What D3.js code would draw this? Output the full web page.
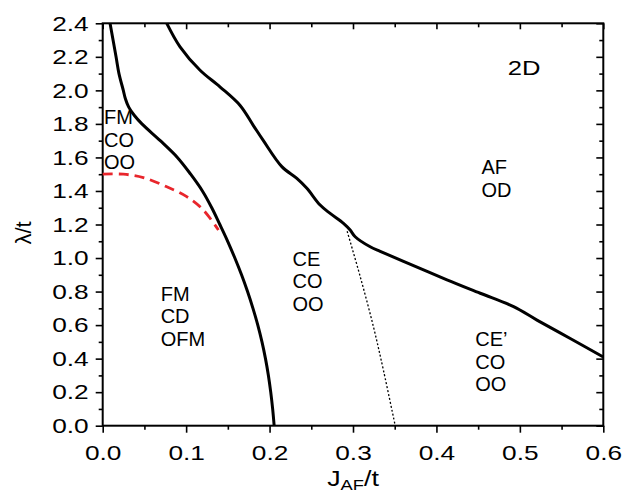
<!DOCTYPE html>
<html>
<head>
<meta charset="utf-8">
<script src="https://cdnjs.cloudflare.com/ajax/libs/d3/7.8.5/d3.min.js"></script>
<style>
  body { margin: 0; background: #fff; }
  svg { display: block; }
  text { font-family: "Liberation Sans", Arial, Helvetica, sans-serif; fill: #000; }
</style>
</head>
<body>
<svg id="chart" width="623" height="493"></svg>
<script>
// ---- data ----
const xMajorTicks = [0.0, 0.1, 0.2, 0.3, 0.4, 0.5, 0.6];
const xMinorTicks = [0.05, 0.15, 0.25, 0.35, 0.45, 0.55];
const yMajorTicks = [0.0, 0.2, 0.4, 0.6, 0.8, 1.0, 1.2, 1.4, 1.6, 1.8, 2.0, 2.2, 2.4];
const yMinorTicks = [0.1, 0.3, 0.5, 0.7, 0.9, 1.1, 1.3, 1.5, 1.7, 1.9, 2.1, 2.3];

// left solid boundary (FM/CO/OO | FM/CD/OFM)
const b1X = [0.0088, 0.0160, 0.0195, 0.0247, 0.0272, 0.0312, 0.0380, 0.0470, 0.0690, 0.0895, 0.1054, 0.1195, 0.1307, 0.1404, 0.1498, 0.1584, 0.1664, 0.1736, 0.1801, 0.1859, 0.1909, 0.1951, 0.1986, 0.2014, 0.2037, 0.2055];
const b1Y = [2.40, 2.20, 2.10, 2.00, 1.95, 1.90, 1.85, 1.80, 1.70, 1.60, 1.50, 1.40, 1.30, 1.20, 1.10, 1.00, 0.90, 0.80, 0.70, 0.60, 0.50, 0.40, 0.30, 0.20, 0.10, 0.00];

// upper solid boundary (.. | AF/OD)
const b2X = [0.0768, 0.0927, 0.1167, 0.1408, 0.1647, 0.1806, 0.1926, 0.2147, 0.2327, 0.2447, 0.2606, 0.2726, 0.2886, 0.2966, 0.3026, 0.3206, 0.3326, 0.3605, 0.4126, 0.4525, 0.4925, 0.5205, 0.5604, 0.6000];
const b2Y = [2.40, 2.26, 2.12, 2.02, 1.91, 1.79, 1.70, 1.545, 1.475, 1.416, 1.316, 1.266, 1.207, 1.167, 1.127, 1.067, 1.04, 0.98, 0.87, 0.79, 0.71, 0.63, 0.52, 0.41];

// dotted boundary (CE | CE')
const b3X = [0.2930, 0.3086, 0.3245, 0.3365, 0.3506];
const b3Y = [1.16, 0.89, 0.59, 0.33, 0.00];

// red dashed line
const rX = [0.0000, 0.0247, 0.0487, 0.0768, 0.1007, 0.1207, 0.1387];
const rY = [1.50, 1.50, 1.48, 1.425, 1.366, 1.286, 1.167];

// region labels
const labelLines = [["FM", "CO", "OO"], ["FM", "CD", "OFM"], ["CE", "CO", "OO"], ["CE\u2019", "CO", "OO"], ["AF", "OD"]];
const labelX = [0.0015, 0.0695, 0.2275, 0.4465, 0.4540];
const labelY = [1.80, 0.745, 0.955, 0.475, 1.50];

// ---- layout ----
const svg = d3.select("#chart");
const L = 102.7, R = 603.3, T = 23.3, B = 425.7;
const x = d3.scaleLinear().domain([0, 0.6]).range([L, R]);
const y = d3.scaleLinear().domain([0, 2.4]).range([B, T]);

function stretch(sel, k) {
  sel.each(function () {
    const w = this.getComputedTextLength();
    d3.select(this).attr("textLength", w * k).attr("lengthAdjust", "spacingAndGlyphs");
  });
}

// axes
const gBM = svg.append("g").attr("transform", `translate(0,${B})`)
  .call(d3.axisBottom(x).tickValues(xMajorTicks).tickFormat(d3.format(".1f")).tickSize(7).tickPadding(12));
const gBm = svg.append("g").attr("transform", `translate(0,${B})`)
  .call(d3.axisBottom(x).tickValues(xMinorTicks).tickFormat("").tickSize(4));
const gLM = svg.append("g").attr("transform", `translate(${L},0)`)
  .call(d3.axisLeft(y).tickValues(yMajorTicks).tickFormat(d3.format(".1f")).tickSize(7).tickPadding(7));
const gLm = svg.append("g").attr("transform", `translate(${L},0)`)
  .call(d3.axisLeft(y).tickValues(yMinorTicks).tickFormat("").tickSize(4));
const gTM = svg.append("g").attr("transform", `translate(0,${T})`)
  .call(d3.axisTop(x).tickValues(xMajorTicks).tickFormat("").tickSize(-6));
const gTm = svg.append("g").attr("transform", `translate(0,${T})`)
  .call(d3.axisTop(x).tickValues(xMinorTicks).tickFormat("").tickSize(-4));
const gRM = svg.append("g").attr("transform", `translate(${R},0)`)
  .call(d3.axisRight(y).tickValues(yMajorTicks).tickFormat("").tickSize(-7));
const gRm = svg.append("g").attr("transform", `translate(${R},0)`)
  .call(d3.axisRight(y).tickValues(yMinorTicks).tickFormat("").tickSize(-4));

svg.selectAll(".domain").remove();
svg.selectAll(".tick line").attr("stroke", "#000").attr("stroke-width", 1.6);
svg.selectAll(".tick text").attr("font-size", 21).attr("font-family", "Liberation Sans, Arial, sans-serif");
stretch(gBM.selectAll(".tick text"), 1.25);
stretch(gLM.selectAll(".tick text"), 1.25);

// frame
svg.append("rect").attr("x", L).attr("y", T).attr("width", R - L).attr("height", B - T)
  .attr("fill", "none").attr("stroke", "#000").attr("stroke-width", 2);

// curves
const line = d3.line().x(d => x(d[0])).y(d => y(d[1])).curve(d3.curveCatmullRom.alpha(0.5));
const zip = (a, b) => a.map((v, i) => [v, b[i]]);

svg.append("path").attr("d", line(zip(rX, rY))).attr("fill", "none")
  .attr("stroke", "#e8262c").attr("stroke-width", 2.8).attr("stroke-dasharray", "10,6");
svg.append("path").attr("d", line(zip(b1X, b1Y))).attr("fill", "none")
  .attr("stroke", "#000").attr("stroke-width", 3);
svg.append("path").attr("d", line(zip(b2X, b2Y))).attr("fill", "none")
  .attr("stroke", "#000").attr("stroke-width", 3);
svg.append("path").attr("d", line(zip(b3X, b3Y))).attr("fill", "none")
  .attr("stroke", "#000").attr("stroke-width", 1.3).attr("stroke-dasharray", "2,2");

// region labels
labelLines.forEach((lines, i) => {
  const t = svg.append("text").attr("x", x(labelX[i])).attr("y", y(labelY[i])).attr("font-size", 20);
  lines.forEach((s, j) => {
    t.append("tspan").attr("x", x(labelX[i])).attr("dy", j === 0 ? 0 : 22.7).text(s);
  });
});

// 2D
const t2d = svg.append("text").attr("x", x(0.4855)).attr("y", y(2.09)).attr("font-size", 21).text("2D");
stretch(t2d, 1.22);

// axis titles
const xt = svg.append("text").attr("text-anchor", "middle").attr("font-size", 22)
  .attr("transform", `translate(${(L + R) / 2},486) scale(1.22,1)`);
xt.append("tspan").text("J");
xt.append("tspan").attr("font-size", 15).attr("dy", 4).text("AF");
xt.append("tspan").attr("dy", -4).text("/t");

svg.append("text").attr("text-anchor", "middle").attr("font-size", 22)
  .attr("transform", `translate(31,233) rotate(-90)`).text("\u03bb/t");
</script>
</body>
</html>
